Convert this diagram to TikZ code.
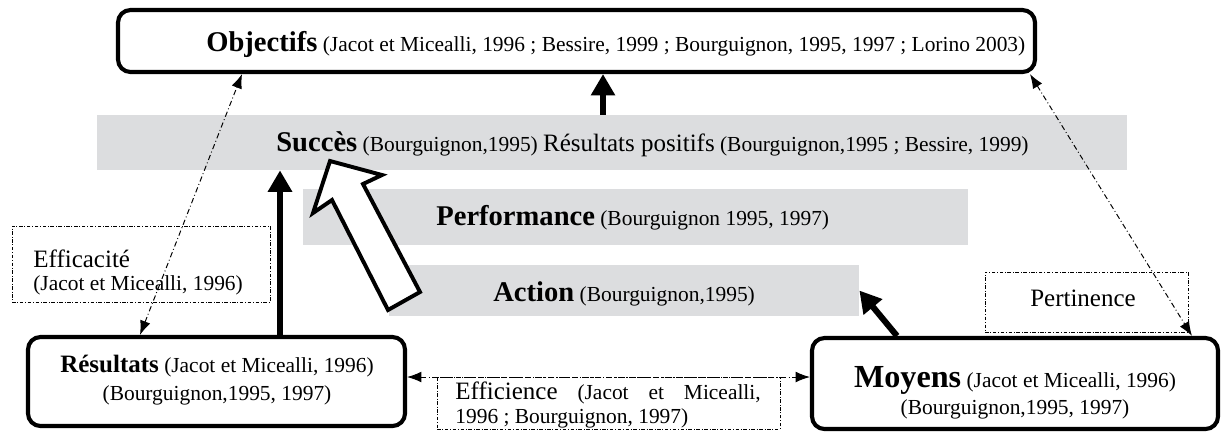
\documentclass[tikz,border=0pt]{standalone}
\usepackage{fontspec}
\setmainfont{Liberation Serif}
\usetikzlibrary{arrows.meta}
\definecolor{bandgray}{RGB}{220,221,223}
\newcommand{\titl}[1]{{\fontsize{16}{19}\selectfont\bfseries #1}}
\newcommand{\midt}[1]{{\fontsize{14}{16}\selectfont #1}}
\tikzset{
  px/.style 2 args={minimum width=#1*0.56pt, minimum height=#2*0.56pt},
  rbox/.style={draw, line width=2.3pt, rounded corners=7pt, inner sep=0pt},
  band/.style={fill=bandgray, inner sep=0pt},
  dbox/.style={draw, line width=0.5pt, dash pattern=on 2pt off 1pt on 0.4pt off 1pt, inner sep=0pt},
  txt/.style={inner sep=0pt, anchor=base west, font=\fontsize{12}{14}\selectfont},
  ctxt/.style={inner sep=0pt, anchor=base, font=\fontsize{12}{14}\selectfont},
  thickarr/.style={line width=3.4pt, -{Triangle[length=12pt,width=13pt]}},
  dd/.style={line width=0.55pt, dash pattern=on 3pt off 1.5pt on 0.5pt off 1.5pt,
     {Latex[length=8pt,width=6pt]}-{Latex[length=8pt,width=6pt]}},
}
\begin{document}
\begin{tikzpicture}[x=0.56pt,y=-0.56pt]
\useasboundingbox (0,0) rectangle (1221,432);
% grey bands
\node[band,px={1030}{55}] (succ) at (612,142.5) {};
\node[band,px={665}{56}] (perf) at (635.5,217) {};
\node[band,px={470}{51}] (act) at (624,290.5) {};
% boxes
\node[rbox,px={917}{62}] (obj) at (576.5,41) {};
\node[rbox,px={377}{89}] (res) at (216.5,381.5) {};
\node[rbox,px={406}{91}] (moy) at (1015,383.5) {};
\node[dbox,px={258}{76}] (eca) at (141,264) {};
\node[dbox,px={203}{60}] (per) at (1086.5,302) {};
\node[dbox,px={343}{52}] (eci) at (608.5,403) {};
% hollow arrow
\draw[line width=2.2pt, fill=white, line join=miter]
  (388,310) -- (332,200) -- (313,213) -- (330,161) -- (382,175) -- (363,184) -- (420,292) -- cycle;
% texts
\node[txt] (objt) at (206,51) {\titl{Objectifs} (Jacot et Micealli, 1996 ; Bessire, 1999 ; Bourguignon, 1995, 1997 ; Lorino 2003)};
\node[txt] (succt) at (276,151) {\titl{Succès} (Bourguignon,1995) \midt{Résultats positifs} (Bourguignon,1995 ; Bessire, 1999)};
\node[txt] (perft) at (436,225) {\titl{Performance} (Bourguignon 1995, 1997)};
\node[txt] (actt) at (493,301) {\titl{Action} (Bourguignon,1995)};
\node[ctxt] (rest1) at (217,372) {{\fontsize{14}{16}\selectfont\bfseries Résultats} (Jacot et Micealli, 1996)};
\node[ctxt] (rest2) at (217,400) {(Bourguignon,1995, 1997)};
\node[ctxt] (moyt1) at (1015,387) {{\fontsize{18}{21}\selectfont\bfseries Moyens} (Jacot et Micealli, 1996)};
\node[ctxt] (moyt2) at (1015,414) {(Bourguignon,1995, 1997)};
\node[txt] (ecat1) at (33,267) {\midt{Efficacité}};
\node[txt] (ecat2) at (33,290) {(Jacot et Micealli, 1996)};
\node[ctxt] (pert) at (1083,306) {\midt{Pertinence}};
\node[txt] (ecit) at (455,399) {\parbox[t]{171pt}{\fontsize{12}{13.5}\selectfont\midt{Efficience}\hfill(Jacot\hfill et\hfill Micealli,\\1996 ; Bourguignon, 1997)}};
% thick arrows
\coordinate (xa) at (603,0);
\draw[thickarr] (xa |- succ.north) -- (xa |- obj.south);
\coordinate (xb) at (280,0);
\draw[thickarr] (xb |- res.north) -- (xb |- succ.south);
\coordinate (xc) at (897,0);
\draw[thickarr] (xc |- moy.north) -- (act.east);
% dash-dot arrows
\coordinate (xd) at (140,0);
\coordinate (xe) at (242,0);
\draw[dd] (xd |- res.north) -- (xe |- obj.south);
\coordinate (xf) at (1030,0);
\coordinate (xg) at (1192,0);
\draw[dd] (xf |- obj.south) -- (xg |- moy.north);
\coordinate (ye) at (0,377);
\draw[dd] (res.east |- ye) -- (moy.west |- ye);
\end{tikzpicture}
\end{document}
